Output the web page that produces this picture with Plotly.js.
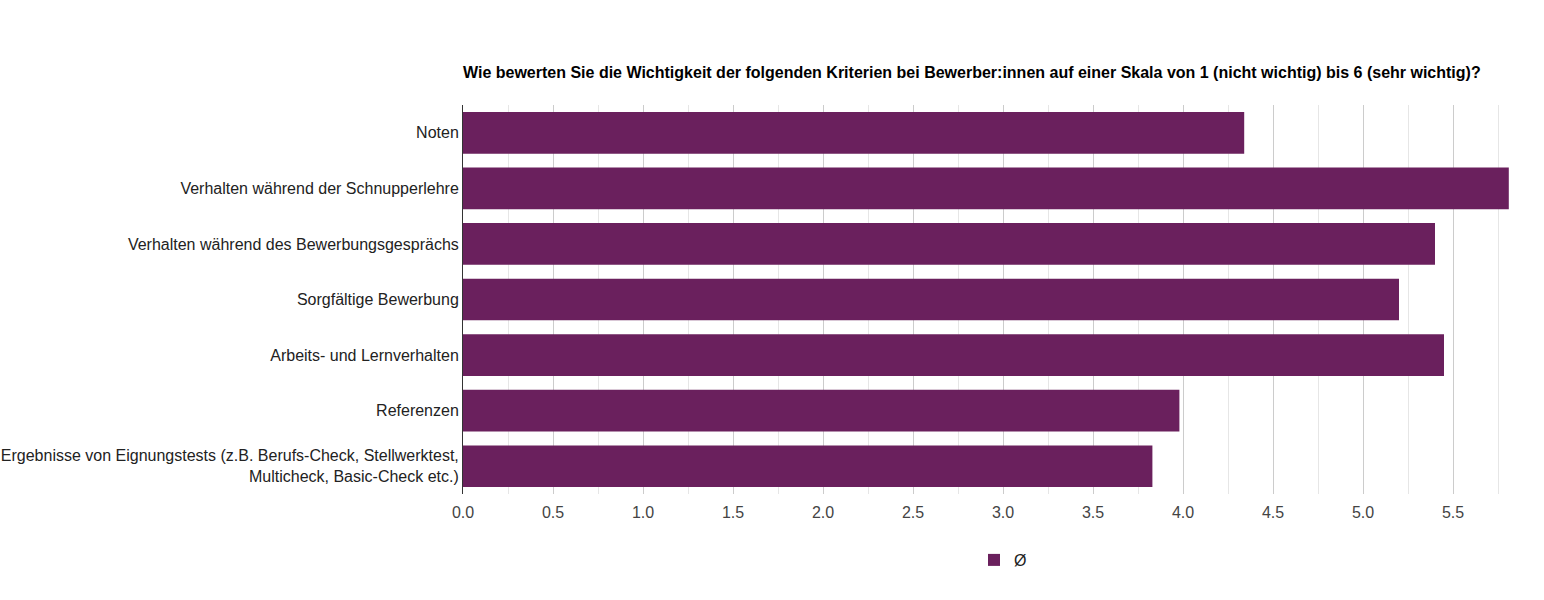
<!DOCTYPE html>
<html>
<head>
<meta charset="utf-8">
<script src="https://cdn.plot.ly/plotly-3.0.1.min.js"></script>
<style>html,body{margin:0;padding:0;background:#fff;}#chart{width:1544px;height:600px;}</style>
</head>
<body>
<div id="chart"></div>
<script>
const categories = [
  "Noten",
  "Verhalten während der Schnupperlehre",
  "Verhalten während des Bewerbungsgesprächs",
  "Sorgfältige Bewerbung",
  "Arbeits- und Lernverhalten",
  "Referenzen",
  "Ergebnisse von Eignungstests (z.B. Berufs-Check, Stellwerktest,<br>Multicheck, Basic-Check etc.)"
];
const averages = [4.34, 5.81, 5.40, 5.20, 5.45, 3.98, 3.83];
const seriesName = "Ø";
const xTickVals = [0, 0.5, 1, 1.5, 2, 2.5, 3, 3.5, 4, 4.5, 5, 5.5];
const xTickText = ["0.0","0.5","1.0","1.5","2.0","2.5","3.0","3.5","4.0","4.5","5.0","5.5"];
const titleText = "Wie bewerten Sie die Wichtigkeit der folgenden Kriterien bei Bewerber:innen auf einer Skala von 1 (nicht wichtig) bis 6 (sehr wichtig)?";

const trace = {
  type: "bar",
  orientation: "h",
  y: categories,
  x: averages,
  name: seriesName,
  marker: {color: "#6a205d"},
  hoverinfo: "x+y"
};

const layout = {
  width: 1544,
  height: 600,
  paper_bgcolor: "#fff",
  plot_bgcolor: "#fff",
  font: {family: "Liberation Sans, Arial, sans-serif", size: 16, color: "#333"},
  margin: {l: 463, r: 1, t: 105, b: 106},
  bargap: 0.25,
  title: {
    text: "<b>" + titleText + "</b>",
    x: 0, xref: "paper", xanchor: "left",
    y: 1 - 72/600, yref: "container", yanchor: "middle",
    font: {family: "Liberation Sans, Arial, sans-serif", size: 16, color: "#000"}
  },
  xaxis: {
    range: [0, 6],
    tickvals: xTickVals,
    ticktext: xTickText,
    showgrid: true,
    gridcolor: "#cccccc",
    gridwidth: 1,
    minor: {dtick: 0.25, tick0: 0, showgrid: true, gridcolor: "#e6e6e6", gridwidth: 1, ticklen: 0},
    zeroline: false,
    showline: false,
    ticks: "",
    ticklabelstandoff: 7,
    tickfont: {size: 16, color: "#444"},
    fixedrange: true
  },
  yaxis: {
    autorange: "reversed",
    showline: true,
    linecolor: "#333",
    linewidth: 1,
    showgrid: false,
    zeroline: false,
    ticks: "",
    tickfont: {size: 16, color: "#222"},
    fixedrange: true
  },
  showlegend: true,
  legend: {
    orientation: "h",
    x: 0.5, xanchor: "center",
    y: 1 - 560/600, yref: "container", yanchor: "middle",
    font: {size: 16, color: "#222"}
  }
};

Plotly.newPlot("chart", [trace], layout, {displayModeBar: false});
</script>
</body>
</html>
